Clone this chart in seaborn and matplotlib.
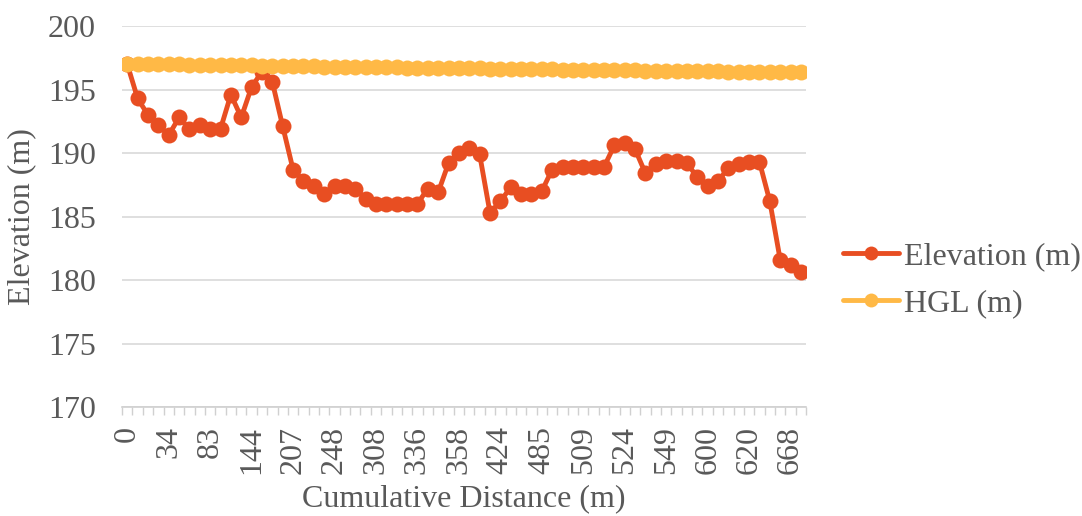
import numpy as np
import pandas as pd
import matplotlib
matplotlib.use("Agg")
import matplotlib.pyplot as plt
import seaborn as sns
from matplotlib.ticker import FixedLocator

# ---- data ----
elevation = [197.0, 194.3, 193.0, 192.2, 191.4, 192.8, 191.9, 192.2, 191.9, 191.9,
             194.6, 192.8, 195.2, 196.4, 195.6, 192.1, 188.7, 187.8, 187.4, 186.8,
             187.4, 187.4, 187.2, 186.4, 186.0, 186.0, 186.0, 186.0, 186.0, 187.2,
             186.9, 189.2, 190.0, 190.4, 189.9, 185.3, 186.2, 187.3, 186.8, 186.8,
             187.0, 188.7, 188.9, 188.9, 188.9, 188.9, 188.9, 190.6, 190.8, 190.3,
             188.4, 189.1, 189.4, 189.4, 189.2, 188.1, 187.4, 187.8, 188.8, 189.1,
             189.3, 189.3, 186.2, 181.6, 181.2, 180.6]
hgl = [197.00, 196.99, 196.99, 196.98, 196.98, 196.97, 196.96, 196.95, 196.94, 196.93,
       196.92, 196.91, 196.90, 196.88, 196.87, 196.86, 196.84, 196.83, 196.82, 196.81,
       196.80, 196.79, 196.78, 196.77, 196.76, 196.75, 196.74, 196.73, 196.72, 196.71,
       196.70, 196.69, 196.68, 196.67, 196.66, 196.64, 196.63, 196.62, 196.61, 196.60,
       196.59, 196.58, 196.57, 196.56, 196.55, 196.54, 196.53, 196.52, 196.51, 196.50,
       196.49, 196.48, 196.47, 196.46, 196.45, 196.44, 196.43, 196.42, 196.41, 196.40,
       196.39, 196.38, 196.37, 196.36, 196.35, 196.34]
tick_labels = ["0", "34", "83", "144", "207", "248", "308", "336", "358",
               "424", "485", "509", "524", "549", "600", "620", "668"]
series_names = ["Elevation (m)", "HGL (m)"]
colors = ["#E84E22", "#FFB946"]

# ---- build table ----
idx = list(range(len(elevation)))
df = pd.DataFrame({
    "point": idx * 2,
    "value": elevation + hgl,
    "series": [series_names[0]] * len(elevation) + [series_names[1]] * len(hgl),
})

sns.set_theme(style="white")
plt.rcParams["font.family"] = ["Liberation Serif", "DejaVu Serif"]

FS = 23
TXT = "#595959"

fig = plt.figure(figsize=(10.82, 5.16), dpi=100)
ax = fig.add_axes([0.1128, 0.2112, 0.6322, 0.7384])

for name, col in zip(series_names, colors):
    sub = df[df["series"] == name]
    sns.lineplot(data=sub, x="point", y="value", ax=ax, color=col, label=name,
                 marker="o", markeredgewidth=0, linewidth=3.5)
for ln in ax.lines:
    ln.set_markersize(11.5)
    ln.set_markeredgewidth(0)

ax.set_ylim(170, 200)
ax.set_yticks(np.arange(170, 201, 5))
ax.set_xlim(-0.5, len(elevation) - 0.5)
ax.set_xticks(idx[::4])
ax.set_xticklabels(tick_labels, rotation=90, va="top", ha="center")
ax.xaxis.set_minor_locator(FixedLocator(np.arange(-0.5, len(elevation), 1.0)))

ax.grid(axis="y", color="#d9d9d9", linewidth=1.2)
ax.grid(axis="x", visible=False)
ax.set_axisbelow(True)
for s in ["top", "right", "left"]:
    ax.spines[s].set_visible(False)
ax.spines["bottom"].set_color("#d0d0d0")
ax.spines["bottom"].set_linewidth(1.2)

ax.tick_params(axis="x", which="major", length=0, pad=14, labelsize=FS, labelcolor=TXT)
ax.tick_params(axis="x", which="minor", length=6, width=1, color="#d0d0d0", direction="out", bottom=True)
ax.tick_params(axis="y", length=0, pad=19, labelsize=FS, labelcolor=TXT)

ax.set_xlabel("Cumulative Distance (m)", fontsize=FS, color=TXT)
ax.set_ylabel("Elevation (m)", fontsize=FS, color=TXT)
ax.xaxis.set_label_coords(0.5, -0.203)
ax.yaxis.set_label_coords(-0.126, 0.5)

leg = ax.legend(loc="center left", bbox_to_anchor=(1.012, 0.333), frameon=False,
                fontsize=FS, handlelength=1.75, handletextpad=0.15, labelspacing=0.55,
                labelcolor=TXT)
for h in leg.legend_handles:
    h.set_markersize(10)
    h.set_markeredgewidth(0)

fig.savefig("out.png", dpi=100)
